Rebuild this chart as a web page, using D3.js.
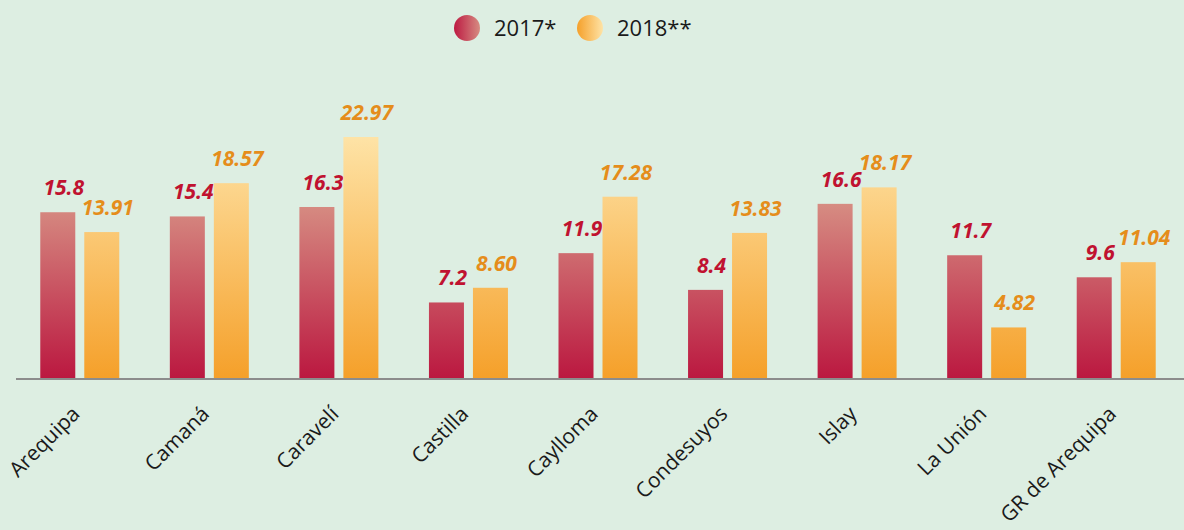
<!DOCTYPE html>
<html lang="es">
<head>
<meta charset="UTF-8">
<title>Chart</title>
<script src="https://cdnjs.cloudflare.com/ajax/libs/d3/7.8.5/d3.min.js"></script>
<style>
  * { margin: 0; padding: 0; box-sizing: border-box; }
  body { background: #ddeee2; width: 1184px; height: 530px; overflow: hidden; }
  svg { display: block; font-family: "Open Sans", "DejaVu Sans", sans-serif; }
</style>
</head>
<body>
<div id="chart"></div>
<script>
const categories = ['Arequipa', 'Camaná', 'Caravelí', 'Castilla', 'Caylloma', 'Condesuyos', 'Islay', 'La Unión', 'GR de Arequipa'];
const values2017 = [15.8, 15.4, 16.3, 7.2, 11.9, 8.4, 16.6, 11.7, 9.6];
const values2018 = [13.91, 18.57, 22.97, 8.60, 17.28, 13.83, 18.17, 4.82, 11.04];
const labels2017 = ['15.8', '15.4', '16.3', '7.2', '11.9', '8.4', '16.6', '11.7', '9.6'];
const labels2018 = ['13.91', '18.57', '22.97', '8.60', '17.28', '13.83', '18.17', '4.82', '11.04'];
const seriesNames = ['2017*', '2018**'];

const width = 1184, height = 530;
const baseY = 378;

const svg = d3.select('#chart').append('svg')
    .attr('width', width)
    .attr('height', height);

const defs = svg.append('defs');

const x = d3.scaleBand().domain(categories).range([15, 1181]).padding(0);
const y = d3.scaleLinear().domain([0, 23]).range([baseY, baseY - 241.3]);

// vertical gradients in chart space, so short bars stay darker
function vGrad(id, top, bottom, topVal) {
    const g = defs.append('linearGradient').attr('id', id)
        .attr('gradientUnits', 'userSpaceOnUse')
        .attr('x1', 0).attr('x2', 0)
        .attr('y1', y(0)).attr('y2', y(topVal));
    g.append('stop').attr('offset', '0%').attr('stop-color', bottom);
    g.append('stop').attr('offset', '100%').attr('stop-color', top);
}
vGrad('g2017', '#d68c82', '#bb1840', 16.6);
vGrad('g2018', '#fee3a6', '#f5a02a', 22.97);

function hGrad(id, left, right) {
    const g = defs.append('linearGradient').attr('id', id)
        .attr('x1', '0%').attr('x2', '100%').attr('y1', '0%').attr('y2', '0%');
    g.append('stop').attr('offset', '0%').attr('stop-color', left);
    g.append('stop').attr('offset', '100%').attr('stop-color', right);
}
hGrad('l2017', '#bd1a42', '#d68c82');
hGrad('l2018', '#f5a02a', '#fee3a6');

const barW = 35, gap = 9;
const series = [
    { vals: values2017, labs: labels2017, fill: 'url(#g2017)', color: '#c01230', off: -(barW + gap) / 2 },
    { vals: values2018, labs: labels2018, fill: 'url(#g2018)', color: '#e58d1b', off: (barW + gap) / 2 }
];

series.forEach(s => {
    const cx = (d, i) => x(categories[i]) + x.bandwidth() / 2 + s.off;
    svg.append('g').selectAll('rect')
        .data(s.vals)
        .enter()
        .append('rect')
        .attr('x', (d, i) => cx(d, i) - barW / 2)
        .attr('y', d => y(d))
        .attr('width', barW)
        .attr('height', d => y(0) - y(d))
        .attr('fill', s.fill);

    svg.append('g').selectAll('text')
        .data(s.vals)
        .enter()
        .append('text')
        .attr('x', (d, i) => cx(d, i) + 6)
        .attr('y', d => y(d) - 17)
        .attr('text-anchor', 'middle')
        .attr('fill', s.color)
        .style('font-size', '21px')
        .style('font-weight', 'bold')
        .style('font-style', 'italic')
        .text((d, i) => s.labs[i]);
});

// baseline
svg.append('line')
    .attr('x1', 16).attr('x2', width)
    .attr('y1', y(0) + 1).attr('y2', y(0) + 1)
    .attr('stroke', '#8c8c8c')
    .attr('stroke-width', 2);

// category labels
svg.append('g').selectAll('text')
    .data(categories)
    .enter()
    .append('text')
    .attr('transform', d => `translate(${x(d) + x.bandwidth() / 2 - 4},${baseY + 32}) rotate(-45)`)
    .attr('text-anchor', 'end')
    .attr('dy', '0.35em')
    .attr('fill', '#1a1a1a')
    .style('font-size', '21px')
    .text(d => d);

// legend
const legend = svg.append('g');
const legendX = [467, 590];
seriesNames.forEach((name, i) => {
    legend.append('circle')
        .attr('cx', legendX[i]).attr('cy', 28).attr('r', 13)
        .attr('fill', i === 0 ? 'url(#l2017)' : 'url(#l2018)');
    legend.append('text')
        .attr('x', legendX[i] + 27).attr('y', 28)
        .attr('dy', '0.35em')
        .attr('fill', '#1a1a1a')
        .style('font-size', '22px')
        .text(name);
});
</script>
</body>
</html>
